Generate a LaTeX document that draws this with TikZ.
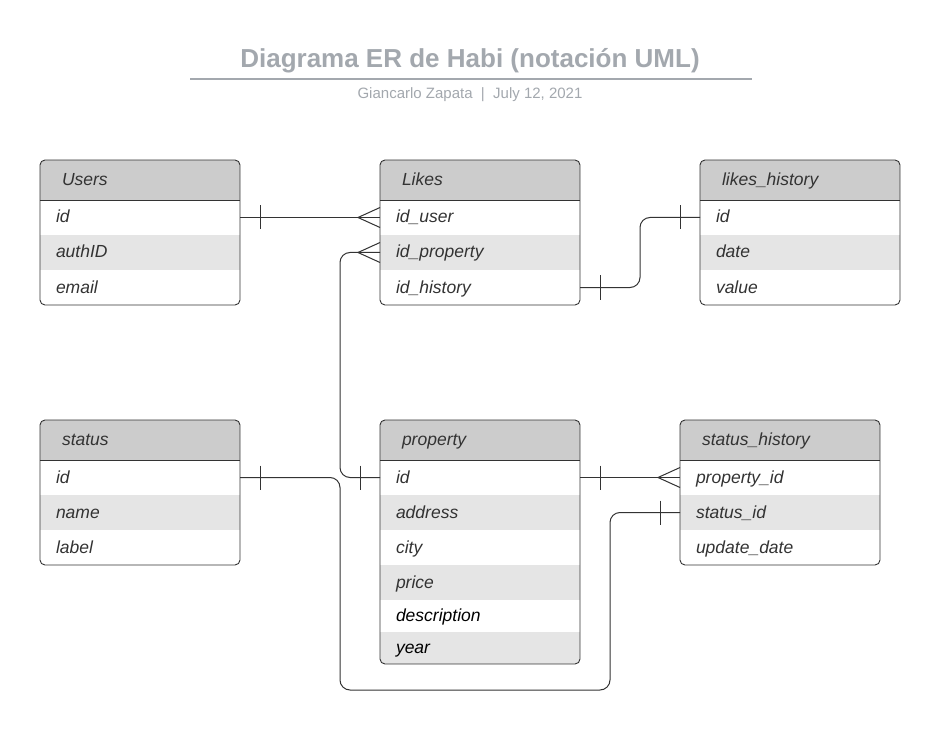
\documentclass[tikz,border=0pt]{standalone}
\usepackage{fontspec}
\setmainfont{Liberation Sans}
\usetikzlibrary{calc}
\definecolor{hdrgray}{RGB}{204,204,204}
\definecolor{stripe}{RGB}{229,229,229}
\definecolor{ink}{RGB}{51,51,51}
\definecolor{titlegray}{RGB}{163,168,174}
\newcommand\rowfont{\fontsize{17.5}{20}\selectfont\itshape}
\tikzset{
  hdr/.style={anchor=north west, fill=hdrgray, minimum width=200pt, text width=156pt,
    inner xsep=22pt, inner ysep=0pt, outer sep=0pt, minimum height=40pt, align=left,
    text height=13.3pt, text depth=2.3pt, font=\rowfont, text=ink},
  row/.style={anchor=north west, minimum width=200pt, text width=168pt,
    inner xsep=16pt, inner ysep=0pt, outer sep=0pt, align=left,
    text height=13.3pt, text depth=2.3pt, font=\rowfont},
  frame/.style={draw=ink, line width=0.9pt},
  conn/.style={draw=ink, line width=1pt, rounded corners=10pt},
  endmark/.style={draw=ink, line width=1pt},
}
\newcommand\ertab[6]{%
  \begin{scope}
    \clip[rounded corners=5pt] (#2,#3) rectangle ++(200,#5);
    \node[hdr] (#1-0) at (#2,#3) {#4};
    \foreach \lab/\h/\f/\c [count=\i] in {#6}{%
      \pgfmathtruncatemacro\prev{\i-1}%
      \node[row, minimum height=\h pt, fill=\f, text=\c] (#1-\i) at (#1-\prev.south west) {\lab};
    }
  \end{scope}
  \draw[frame, rounded corners=5pt] (#2,#3) rectangle ++(200,#5);
  \draw[frame] (#1-0.south west) -- (#1-0.south east);
}
\newcommand\onebar[2]{\draw[endmark] ($(#1)+(#2,-12)$) -- ($(#1)+(#2,12)$);}
\newcommand\crowW[1]{\draw[endmark] ($(#1)+(0,-10)$) -- ($(#1)+(-22,0)$) -- ($(#1)+(0,10)$);}
\begin{document}
\begin{tikzpicture}[x=1pt, y=-1pt]
\useasboundingbox[fill=white] (0,0) rectangle (940,730);
% title
\node[font=\bfseries\fontsize{26}{30}\selectfont, text=titlegray] (title) at (470,61) {Diagrama ER de Habi (notación UML)};
\coordinate (tl) at (190,79);
\coordinate (tr) at (752,79);
\draw[titlegray, line width=1.5pt] (tl) -- (tr);
\node[font=\fontsize{15}{18}\selectfont, text=titlegray] (sub) at (470,95) {Giancarlo Zapata\ \ |\ \ July 12, 2021};
% tables
\ertab{users}{40}{160}{Users}{145}{id/35/white/ink, authID/35/stripe/ink, email/35/white/ink}
\ertab{likes}{380}{160}{Likes}{145}{id\_user/35/white/ink, id\_property/35/stripe/ink, id\_history/35/white/ink}
\ertab{lh}{700}{160}{likes\_history}{145}{id/35/white/ink, date/35/stripe/ink, value/35/white/ink}
\ertab{status}{40}{420}{status}{145}{id/35/white/ink, name/35/stripe/ink, label/35/white/ink}
\ertab{property}{380}{420}{property}{244}{id/35/white/ink, address/35/stripe/ink, city/35/white/ink, price/35/stripe/ink, description/32/white/black, year/32/stripe/black}
\ertab{sh}{680}{420}{status\_history}{145}{property\_id/35/white/ink, status\_id/35/stripe/ink, update\_date/35/white/ink}
% connectors
\coordinate (c1) at (340,690);
\coordinate (c2) at (610,690);
\draw[conn] (users-1.east) -- (likes-1.west);
\draw[conn] (likes-2.west) -- ++(-40,0) |- (property-1.west);
\draw[conn] (likes-3.east) -- ++(60,0) |- (lh-1.west);
\draw[conn] (status-1.east) -| (c1) -- (c2) |- (sh-2.west);
\draw[conn] (property-1.east) -- (sh-1.west);
% end marks
\onebar{users-1.east}{20}
\crowW{likes-1.west}
\crowW{likes-2.west}
\onebar{property-1.west}{-20}
\onebar{likes-3.east}{20}
\onebar{lh-1.west}{-20}
\onebar{status-1.east}{20}
\onebar{sh-2.west}{-20}
\onebar{property-1.east}{20}
\crowW{sh-1.west}
\end{tikzpicture}
\end{document}
